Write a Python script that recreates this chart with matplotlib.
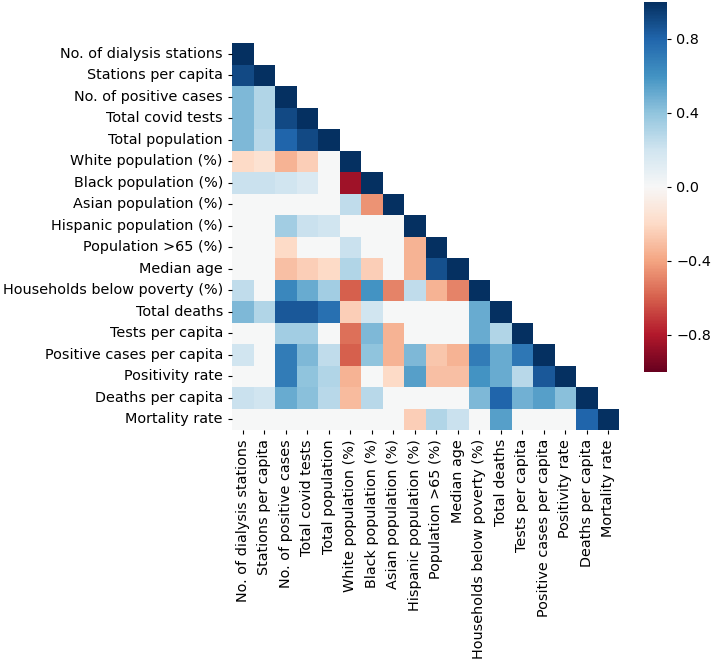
import numpy as np
import matplotlib
matplotlib.use("Agg")
import matplotlib.pyplot as plt
import seaborn as sns

labels = [
    "No. of dialysis stations", "Stations per capita", "No. of positive cases",
    "Total covid tests", "Total population", "White population (%)",
    "Black population (%)", "Asian population (%)", "Hispanic population (%)",
    "Population >65 (%)", "Median age", "Households below poverty (%)",
    "Total deaths", "Tests per capita", "Positive cases per capita",
    "Positivity rate", "Deaths per capita", "Mortality rate",
]

# lower triangle of the correlation matrix, row by row
lower = [
    [1],
    [0.9, 1],
    [0.45, 0.3, 1],
    [0.45, 0.3, 0.9, 1],
    [0.45, 0.28, 0.8, 0.9, 1],
    [-0.2, -0.15, -0.35, -0.25, 0, 1],
    [0.22, 0.22, 0.2, 0.15, 0, -0.85, 1],
    [0, 0, 0, 0, 0, 0.25, -0.45, 1],
    [0, 0, 0.35, 0.22, 0.2, 0, 0, 0, 1],
    [0, 0, -0.2, 0, 0, 0.22, 0, 0, -0.35, 1],
    [0, 0, -0.3, -0.25, -0.2, 0.3, -0.25, 0, -0.35, 0.88, 1],
    [0.25, 0, 0.65, 0.5, 0.35, -0.6, 0.6, -0.5, 0.25, -0.35, -0.5, 1],
    [0.45, 0.3, 0.85, 0.85, 0.75, -0.25, 0.2, 0, 0, 0, 0, 0.5, 1],
    [0, 0, 0.35, 0.35, 0, -0.55, 0.45, -0.35, 0, 0, 0, 0.5, 0.3, 1],
    [0.2, 0, 0.7, 0.45, 0.25, -0.6, 0.4, -0.35, 0.45, -0.28, -0.35, 0.7, 0.5, 0.72, 1],
    [0, 0, 0.7, 0.4, 0.3, -0.35, 0, -0.2, 0.55, -0.3, -0.3, 0.6, 0.5, 0.28, 0.85, 1],
    [0.22, 0.2, 0.5, 0.42, 0.28, -0.32, 0.28, 0, 0, 0, 0, 0.45, 0.8, 0.48, 0.55, 0.42, 1],
    [0, 0, 0, 0, 0, 0, 0, 0, -0.25, 0.3, 0.22, 0, 0.55, 0, 0, 0, 0.8, 1],
]

n = len(labels)
corr = np.zeros((n, n))
for i, row in enumerate(lower):
    corr[i, :len(row)] = row
corr = corr + np.tril(corr, -1).T
mask = np.triu(np.ones_like(corr, dtype=bool), k=1)

fig = plt.figure(figsize=(7.14, 6.64), dpi=100)
ax = fig.add_axes([232 / 714, 1 - 430 / 664, 387 / 714, 387 / 664])
cax = fig.add_axes([644 / 714, 1 - 372 / 664, 23 / 714, 370 / 664])

sns.heatmap(corr, mask=mask, cmap="RdBu", vmin=-1, vmax=1,
            xticklabels=labels, yticklabels=labels,
            ax=ax, cbar_ax=cax, square=False)

ax.tick_params(axis="both", labelsize=10.4, length=3)
ax.set_xticklabels(labels, rotation=90)
ax.set_yticklabels(labels, rotation=0)

cax.set_yticks([-0.8, -0.4, 0.0, 0.4, 0.8])
cax.tick_params(labelsize=10.4, length=3)

fig.savefig("out.png", dpi=100)
